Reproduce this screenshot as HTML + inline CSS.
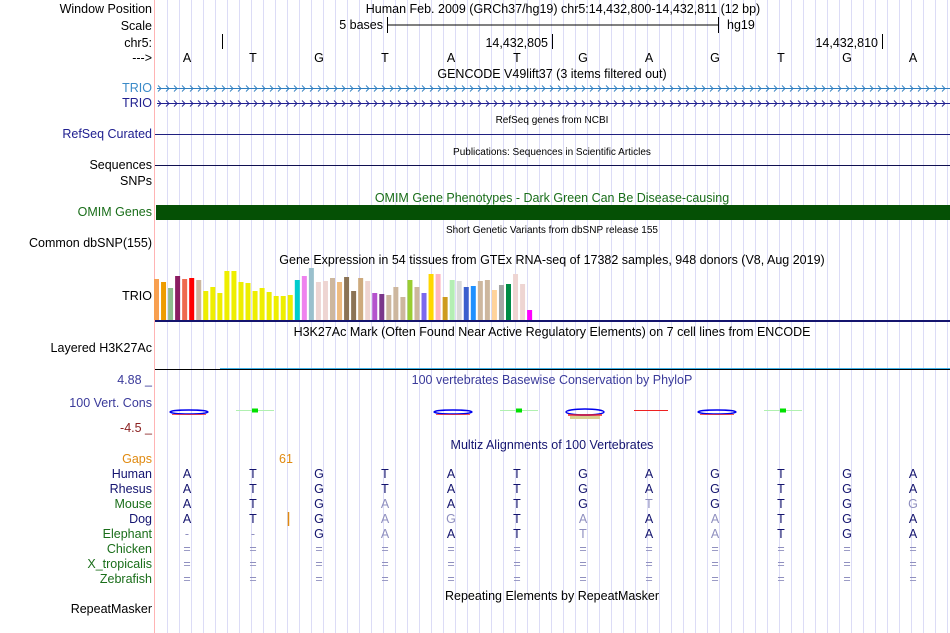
<!DOCTYPE html>
<html><head><meta charset="utf-8">
<style>
html,body{margin:0;padding:0;background:#fff;}
svg{display:block;font-family:"Liberation Sans",sans-serif;}
.lbl{font-size:12.5px;text-anchor:end;}
.ttl{font-size:12.5px;text-anchor:middle;}
.sm{font-size:10px;text-anchor:middle;fill:#000;}
.base{font-size:12.5px;text-anchor:middle;}
</style></head>
<body>
<svg id="chart" width="950" height="633" viewBox="0 0 950 633" xmlns="http://www.w3.org/2000/svg">
<rect width="950" height="633" fill="#fff"/>
<g id="grid"></g>
<line x1="154.5" y1="0" x2="154.5" y2="633" stroke="#ffb4b4"/>

<g>
<text class="lbl" x="152" y="13">Window Position</text>
<text class="lbl" x="152" y="30">Scale</text>
<text class="lbl" x="152" y="47">chr5:</text>
<text class="lbl" x="152" y="62">---&gt;</text>
<text class="lbl" x="152" y="92" fill="#3a8ac8">TRIO</text>
<text class="lbl" x="152" y="107" fill="#202090">TRIO</text>
<text class="lbl" x="152" y="138" fill="#202090">RefSeq Curated</text>
<text class="lbl" x="152" y="169">Sequences</text>
<text class="lbl" x="152" y="185">SNPs</text>
<text class="lbl" x="152" y="216" fill="#1a6e1a">OMIM Genes</text>
<text class="lbl" x="152" y="247">Common dbSNP(155)</text>
<text class="lbl" x="152" y="300">TRIO</text>
<text class="lbl" x="152" y="352">Layered H3K27Ac</text>
<text class="lbl" x="152" y="384" fill="#3a3a9a">4.88 _</text>
<text class="lbl" x="152" y="407" fill="#3a3a9a">100 Vert. Cons</text>
<text class="lbl" x="152" y="432" fill="#8b2020">-4.5 _</text>
<text class="lbl" x="152" y="463" fill="#e08a10">Gaps</text>
<text class="lbl" x="152" y="478" fill="#141470">Human</text>
<text class="lbl" x="152" y="493" fill="#141470">Rhesus</text>
<text class="lbl" x="152" y="508" fill="#1a6e1a">Mouse</text>
<text class="lbl" x="152" y="523" fill="#141470">Dog</text>
<text class="lbl" x="152" y="538" fill="#1a6e1a">Elephant</text>
<text class="lbl" x="152" y="553" fill="#1a6e1a">Chicken</text>
<text class="lbl" x="152" y="568" fill="#1a6e1a">X_tropicalis</text>
<text class="lbl" x="152" y="583" fill="#1a6e1a">Zebrafish</text>
<text class="lbl" x="152" y="613">RepeatMasker</text>
</g>

<text class="ttl" x="563" y="13">Human Feb. 2009 (GRCh37/hg19)   chr5:14,432,800-14,432,811 (12 bp)</text>
<text x="383" y="29" font-size="12.5" text-anchor="end">5 bases</text>
<g stroke="#000">
<line x1="387.5" y1="25" x2="718.5" y2="25"/>
<line x1="387.5" y1="17" x2="387.5" y2="33"/>
<line x1="718.5" y1="17" x2="718.5" y2="33"/>
<line x1="222.5" y1="34" x2="222.5" y2="49"/>
<line x1="552.5" y1="34" x2="552.5" y2="49"/>
<line x1="882.5" y1="34" x2="882.5" y2="49"/>
</g>
<text x="727" y="29" font-size="12.5">hg19</text>
<text x="548" y="47" font-size="12.5" text-anchor="end">14,432,805</text>
<text x="878" y="47" font-size="12.5" text-anchor="end">14,432,810</text>
<g id="refbases"></g>

<text class="ttl" x="552" y="78">GENCODE V49lift37 (3 items filtered out)</text>
<g id="trio"></g>
<text class="sm" x="552" y="123">RefSeq genes from NCBI</text>
<line x1="155" y1="134.5" x2="950" y2="134.5" stroke="#202080"/>
<text class="sm" x="552" y="155">Publications: Sequences in Scientific Articles</text>
<line x1="155" y1="165.5" x2="950" y2="165.5" stroke="#101050"/>
<text class="ttl" x="552" y="202" fill="#1a6e1a">OMIM Gene Phenotypes - Dark Green Can Be Disease-causing</text>
<rect x="156" y="205" width="794" height="15" fill="#055005"/>
<text class="sm" x="552" y="233">Short Genetic Variants from dbSNP release 155</text>
<text class="ttl" x="552" y="264">Gene Expression in 54 tissues from GTEx RNA-seq of 17382 samples, 948 donors (V8, Aug 2019)</text>
<g id="gtex"></g>
<rect x="155" y="320" width="795" height="2" fill="#14146e"/>
<text class="ttl" x="552" y="336">H3K27Ac Mark (Often Found Near Active Regulatory Elements) on 7 cell lines from ENCODE</text>
<line x1="155" y1="369.5" x2="950" y2="369.5" stroke="#000"/>
<line x1="220" y1="368.5" x2="950" y2="368.5" stroke="#3cb0e6"/>
<text class="ttl" x="552" y="384" fill="#3a3a9a">100 vertebrates Basewise Conservation by PhyloP</text>
<g id="phylop"></g>
<text class="ttl" x="552" y="449" fill="#141470">Multiz Alignments of 100 Vertebrates</text>
<text x="286" y="463" font-size="12.5" text-anchor="middle" fill="#e08a10">61</text>
<line x1="288.5" y1="512" x2="288.5" y2="526" stroke="#e08a10" stroke-width="1.5"/>
<g id="multiz"></g>
<text class="ttl" x="552" y="600">Repeating Elements by RepeatMasker</text>

<script>
var refBases=["A","T","G","T","A","T","G","A","G","T","G","A"];
var species=["Human","Rhesus","Mouse","Dog","Elephant","Chicken","X_tropicalis","Zebrafish"];
var alignRows=["ATGTATGAGTGA","ATGTATGAGTGA","ATGAATGTGTGG","ATGAGTAAATGA","--GAATTAATGA","============","============","============"];
var fadedRows=["000000000000","000000000000","000100010001","000110101000","000100101000","000000000000","000000000000","000000000000"];
var gtexValues=[41,38,32,44,41,42,40,29,33,27,49,49,38,37,29,32,28,24,24,25,40,44,52,38,39,42,38,43,29,42,39,27,26,25,33,23,40,33,27,46,46,23,40,39,33,34,39,40,30,35,36,46,36,10];
var gtexColors=["#f8a050","#ee9c00","#8fbc8f","#8b1c62","#ee6a50","#ff0000","#cdb79e","#eeee00","#eeee00","#eeee00","#eeee00","#eeee00","#eeee00","#eeee00","#eeee00","#eeee00","#eeee00","#eeee00","#eeee00","#eeee00","#00cdcd","#ee82ee","#9ac0cd","#eed5d2","#eed5d2","#cdb79e","#eebb80","#8b7355","#8b7355","#cdaa7d","#eed5d2","#b452cd","#7a378b","#cdb79e","#cdb79e","#cdb79e","#9acd32","#cdb79e","#7b68ee","#ffd700","#ffb6c1","#cd9b1d","#b4eeb4","#d9d9d9","#3a5fcd","#1e90ff","#cdb79e","#cdb79e","#ffd39b","#a6a6a6","#008b45","#eed5d2","#eed5d2","#ff00ff"];
var phyloPos=[0,1,4,5,6,7,8,9];
var phyloScore=[1.2,0.6,1.2,0.6,1.6,-0.5,1.3,0.7];

var NS="http://www.w3.org/2000/svg";
function mk(tag,attrs,parent){var e=document.createElementNS(NS,tag);for(var k in attrs)e.setAttribute(k,attrs[k]);parent.appendChild(e);return e;}
function baseX(i){return 187+66*i;}
function barX(i){return 154+7.04*i;}
function barY(v){return 320-v;}

var grid=document.getElementById('grid');
for(var x=166.7;x<950;x+=12){var l=mk('line',{x1:Math.round(x)+0.5,y1:0,x2:Math.round(x)+0.5,y2:633,stroke:'#dcdcf6'},grid);

}

var rb=document.getElementById('refbases');
refBases.forEach(function(b,i){var t=mk('text',{x:baseX(i),y:62,'class':'base',fill:'#000'},rb);t.textContent=b;

});

var trio=document.getElementById('trio');
[[88,'#2f7fc0'],[103,'#202090']].forEach(function(r){
 var ln=mk('line',{x1:157,y1:r[0]+0.5,x2:950,y2:r[0]+0.5,stroke:r[1]},trio);
 
 
 for(var x=158;x<948;x+=8){mk('polyline',{points:(x)+','+(r[0]-2.5)+' '+(x+3)+','+(r[0]+0.5)+' '+(x)+','+(r[0]+3.5),fill:'none',stroke:r[1],'stroke-width':0.9},trio);}
});

var g=document.getElementById('gtex');
gtexValues.forEach(function(v,i){var r=mk('rect',{x:barX(i),y:barY(v),width:5,height:v,fill:gtexColors[i]},g);

});

var ph=document.getElementById('phylop');
phyloPos.forEach(function(p,i){
 var s=phyloScore[i],cx=baseX(p)+2,y=412;
 if(s>1){
  var e=mk('ellipse',{cx:cx,cy:y,rx:19,ry:s>1.5?3:2,fill:'none',stroke:'#0000ee','stroke-width':1.4},ph);
  
  
  mk('line',{x1:cx-17,y1:y+2.5,x2:cx+17,y2:y+2.5,stroke:'#ee2020','stroke-width':0.8},ph);
  if(s>1.5){mk('rect',{x:cx-15,y:y+4,width:30,height:3,fill:'#d8d090'},ph);mk('line',{x1:cx-17,y1:y+3.5,x2:cx+17,y2:y+3.5,stroke:'#ee2020','stroke-width':0.8},ph);}
 } else if(s<0){
  var r=mk('line',{x1:cx-17,y1:y-1.5,x2:cx+17,y2:y-1.5,stroke:'#ee2020','stroke-width':1},ph);
  
  
 } else {
  var gl=mk('line',{x1:cx-19,y1:y-1.5,x2:cx+19,y2:y-1.5,stroke:'#b0f0b0'},ph);
  
  
  mk('rect',{x:cx-3,y:y-3.5,width:6,height:4,fill:'#00e000'},ph);
 }
});

var mz=document.getElementById('multiz');
species.forEach(function(sp,r){
 for(var i=0;i<12;i++){
  var c=alignRows[r][i],f=fadedRows[r][i]==='1';
  var t=mk('text',{x:baseX(i),y:478+15*r,'class':'base',fill:(f||c==='='||c==='-')?'#8f8fbf':'#14146e'},mz);
  t.textContent=c;
  
  
 }
});
</script>
</svg>
</body></html>
